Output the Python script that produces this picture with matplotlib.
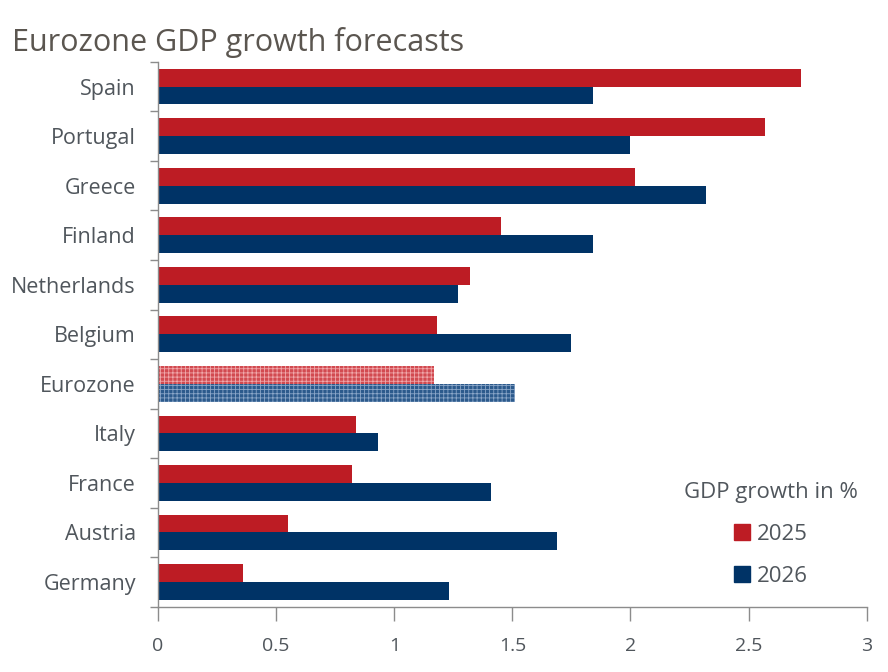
import matplotlib.pyplot as plt
import matplotlib as mpl
import numpy as np
from matplotlib.patches import Patch

plt.rcParams['font.family'] = ['Open Sans', 'DejaVu Sans']
plt.rcParams['hatch.linewidth'] = 0.6

# data (top to bottom)
countries = ['Spain', 'Portugal', 'Greece', 'Finland', 'Netherlands', 'Belgium',
             'Eurozone', 'Italy', 'France', 'Austria', 'Germany']
gdp_2025 = [2.72, 2.57, 2.02, 1.45, 1.32, 1.18, 1.17, 0.84, 0.82, 0.55, 0.36]
gdp_2026 = [1.84, 2.00, 2.32, 1.84, 1.27, 1.75, 1.51, 0.93, 1.41, 1.69, 1.23]
xticks = [0, 0.5, 1, 1.5, 2, 2.5, 3]
xtick_labels = ['0', '0.5', '1', '1.5', '2', '2.5', '3']

red = '#bd1c24'
blue = '#003366'
txt = '#50565c'
axcol = '#8c8c8c'

fig = plt.figure(figsize=(8.88, 6.72), dpi=100)
ax = fig.add_axes([0.178, 0.097, 0.798, 0.811])

n = len(countries)
pos = np.arange(n)[::-1]  # Spain on top
h = 0.36

for i, c in enumerate(countries):
    y = pos[i]
    if c == 'Eurozone':
        ax.barh(y + h / 2, gdp_2025[i], height=h, color='#d24a50', edgecolor='#f0a8ab',
                hatch='++++', linewidth=0)
        ax.barh(y - h / 2, gdp_2026[i], height=h, color='#2c5a8c', edgecolor='#8aa6c8',
                hatch='++++', linewidth=0)
    else:
        ax.barh(y + h / 2, gdp_2025[i], height=h, color=red, linewidth=0)
        ax.barh(y - h / 2, gdp_2026[i], height=h, color=blue, linewidth=0)

ax.set_xlim(0, 3)
ax.set_ylim(-0.5, n - 0.5)
ax.set_xticks(xticks)
ax.set_xticklabels(xtick_labels)

# category labels centred, ticks at the boundaries
ax.set_yticks(pos)
ax.set_yticklabels(countries)
ax.set_yticks(np.arange(-0.5, n, 1.0), minor=True)
ax.tick_params(axis='y', which='major', length=0, pad=16, labelsize=15.5, labelcolor=txt)
ax.tick_params(axis='y', which='minor', length=6, width=1, color=axcol, direction='out')
ax.tick_params(axis='x', length=10, width=1, color=axcol, pad=12, labelsize=14, labelcolor=txt)

for s in ['top', 'right']:
    ax.spines[s].set_visible(False)
for s in ['left', 'bottom']:
    ax.spines[s].set_color(axcol)
    ax.spines[s].set_linewidth(1)

handles = [Patch(color=red, label='2025'), Patch(color=blue, label='2026')]
leg = ax.legend(handles=handles, title='GDP growth in %', loc='lower right',
                bbox_to_anchor=(1.016, 0.0), frameon=False, fontsize=16,
                title_fontsize=16, handlelength=0.7, handleheight=0.7,
                labelspacing=0.95, handletextpad=0.3)
for t in leg.get_texts():
    t.set_color(txt)
leg.get_title().set_color(txt)
leg._legend_box.align = 'center'

fig.text(0.013, 0.937, 'Eurozone GDP growth forecasts', fontsize=22, color='#5b5650',
         va='center', ha='left')

fig.savefig('out.png', dpi=100)
